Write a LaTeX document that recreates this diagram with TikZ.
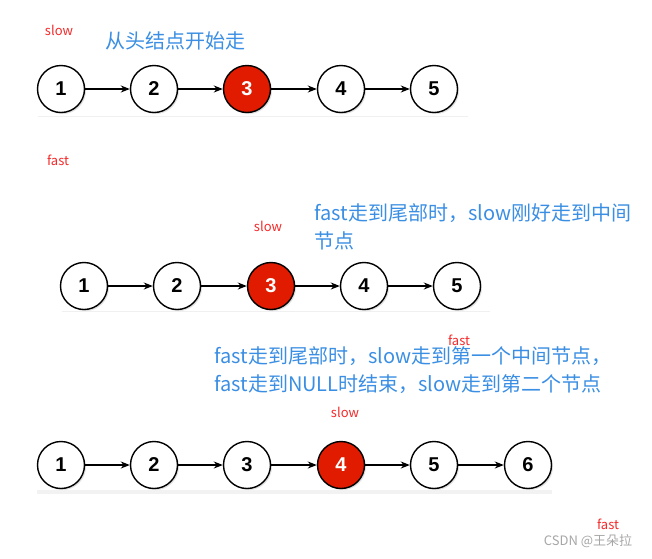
\documentclass[tikz,border=0pt]{standalone}
\usepackage{fontspec}
\setmainfont{Liberation Sans}
\newfontfamily\cjk{Noto Sans CJK SC}
\usetikzlibrary{arrows.meta,shadows}
\definecolor{hitred}{HTML}{E01B00}
\definecolor{tipblue}{HTML}{3A8EE3}
\definecolor{markred}{HTML}{F42A2A}
\tikzset{
  listnode/.style={circle, draw=black, line width=1.4pt, fill=white, minimum size=47pt, inner sep=0pt,
    font=\fontsize{20}{20}\selectfont\bfseries,
    drop shadow={shadow xshift=1.5pt, shadow yshift=-1.5pt, opacity=0.25}},
  hitnode/.style={listnode, fill=hitred, text=white},
  link/.style={-{Stealth[length=9pt,width=7pt]}, line width=1.3pt},
  ptr/.style={text=markred, font=\cjk\fontsize{13}{13}\selectfont, inner sep=0pt},
  tip/.style={text=tipblue, font=\cjk\fontsize{20}{28}\selectfont, align=left, anchor=west, inner sep=0pt},
  floor/.style={draw=gray!12, line width=1pt},
}
\begin{document}
\begin{tikzpicture}[x=1pt, y=-1pt]
\useasboundingbox (0,0) rectangle (652,558);

% first list: start at head
\draw[floor] (38,116) -- (468,116);
\foreach \i/\x/\s in {1/61/listnode, 2/154/listnode, 3/247/hitnode, 4/341/listnode, 5/434/listnode}
  \node[\s] (a\i) at (\x,89) {\i};
\foreach \i [count=\j from 2] in {1,...,4}
  \draw[link] (a\i) -- (a\j);
\node[ptr] (aslow) at (59,30) {slow};
\node[ptr] (afast) at (58,160) {fast};
\node[tip] (atip) at (105,41) {从头结点开始走};

% second list: odd length
\draw[floor] (62,311) -- (490,311);
\foreach \i/\x/\s in {1/84/listnode, 2/177/listnode, 3/271/hitnode, 4/364/listnode, 5/457/listnode}
  \node[\s] (b\i) at (\x,286) {\i};
\foreach \i [count=\j from 2] in {1,...,4}
  \draw[link] (b\i) -- (b\j);
\node[ptr] (bslow) at (268,226) {slow};
\node[ptr] (bfast) at (459,340) {fast};
\node[tip] (btip) at (314,227) {fast走到尾部时，slow刚好走到中间\\节点};

% third list: even length
\draw[draw=gray!10, line width=4pt] (37,492) -- (552,492);
\foreach \i/\x/\s in {1/61/listnode, 2/154/listnode, 3/247/listnode, 4/341/hitnode, 5/434/listnode, 6/528/listnode}
  \node[\s] (c\i) at (\x,465) {\i};
\foreach \i [count=\j from 2] in {1,...,5}
  \draw[link] (c\i) -- (c\j);
\node[ptr] (cslow) at (345,412) {slow};
\node[ptr] (cfast) at (608,524) {fast};
\node[tip] (ctip) at (214,370) {fast走到尾部时，slow走到第一个中间节点，\\fast走到NULL时结束，slow走到第二个节点};

\node[text=gray!70, font=\cjk\fontsize{13}{13}\selectfont, inner sep=0pt] (mark) at (588,541) {CSDN @王朵拉};
\end{tikzpicture}
\end{document}
